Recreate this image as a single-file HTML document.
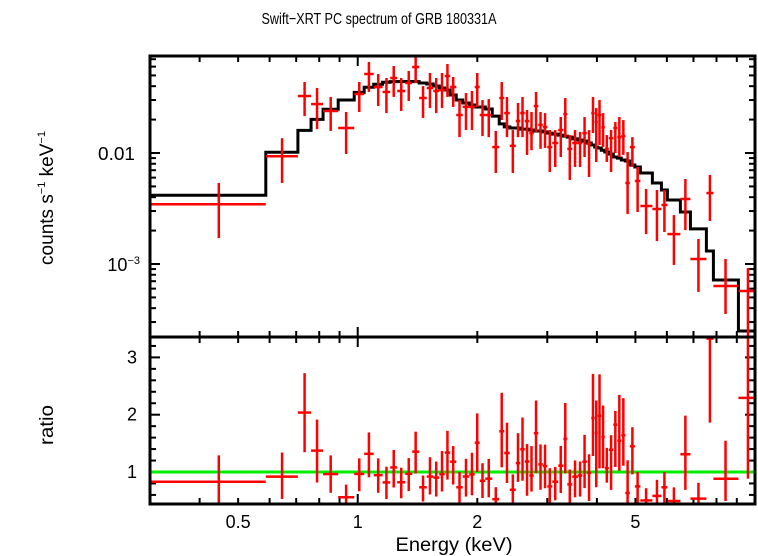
<!DOCTYPE html>
<html><head><meta charset="utf-8"><style>
html,body{margin:0;padding:0;background:#fff;}
svg{display:block;font-family:"Liberation Sans",sans-serif;}
</style></head><body>
<svg id="chart" width="758" height="556" viewBox="0 0 758 556">
<defs>
<clipPath id="clipTop"><rect x="150" y="56" width="605" height="281"/></clipPath>
<clipPath id="clipBot"><rect x="150" y="337" width="605" height="167"/></clipPath>
</defs>
<rect x="0" y="0" width="758" height="556" fill="#fff"/>
<text x="379" y="24" text-anchor="middle" font-size="16" textLength="235" lengthAdjust="spacingAndGlyphs">Swift−XRT PC spectrum of GRB 180331A</text>
<text transform="translate(53,198) rotate(-90)" text-anchor="middle" font-size="19">counts s<tspan font-size="11" dy="-8">−1</tspan><tspan dy="8"> keV</tspan><tspan font-size="11" dy="-8">−1</tspan></text>
<text transform="translate(53,425) rotate(-90)" text-anchor="middle" font-size="19" textLength="40" lengthAdjust="spacingAndGlyphs">ratio</text>
<text x="454" y="551" text-anchor="middle" font-size="19" textLength="117" lengthAdjust="spacingAndGlyphs">Energy (keV)</text>
<g id="ticks"></g>
<g id="topMarks" clip-path="url(#clipTop)"></g>
<g id="botMarks" clip-path="url(#clipBot)"></g>
<g id="labels"></g>
<rect x="150" y="56" width="605" height="281" fill="none" stroke="#000" stroke-width="3"/>
<rect x="150" y="337" width="605" height="167" fill="none" stroke="#000" stroke-width="3"/>
</svg>
<script>
const edges = [0.300,0.587,0.707,0.763,0.818,0.893,0.980,1.038,1.097,1.155,1.207,1.257,1.317,1.371,1.428,1.492,1.549,1.604,1.656,1.709,1.770,1.838,1.909,1.970,2.028,2.094,2.181,2.271,2.338,2.414,2.500,2.565,2.633,2.703,2.774,2.848,2.923,3.000,3.088,3.197,3.292,3.369,3.468,3.581,3.676,3.773,3.871,3.950,4.020,4.103,4.187,4.286,4.399,4.503,4.608,4.716,4.842,4.984,5.146,5.517,5.813,6.018,6.489,6.878,7.545,7.858,9.084,10.0];
const energies = [0.447,0.645,0.735,0.790,0.855,0.935,1.009,1.067,1.126,1.181,1.232,1.287,1.344,1.399,1.460,1.520,1.576,1.630,1.682,1.739,1.804,1.873,1.939,1.999,2.061,2.137,2.226,2.304,2.375,2.457,2.532,2.599,2.668,2.738,2.811,2.885,2.961,3.044,3.142,3.244,3.330,3.418,3.524,3.628,3.724,3.822,3.910,3.985,4.061,4.145,4.236,4.342,4.451,4.555,4.662,4.779,4.913,5.064,5.320,5.665,5.915,6.250,6.680,7.205,7.700,8.430,9.600];
const counts = [.00345,.00934,.0326,.0276,.0239,.0168,.0340,.0515,.0393,.0355,.0474,.0362,.0427,.0595,.0313,.0385,.0362,.0370,.0494,.0393,.0220,.0260,.0260,.0393,.0220,.0220,.0113,.0313,.0229,.0116,.0194,.0229,.0194,.0151,.0265,.0179,.0171,.0113,.0123,.0161,.0224,.0109,.0123,.0123,.0151,.0121,.0229,.0190,.0220,.0171,.0109,.0136,.0168,.0139,.0142,.00537,.0113,.00560,.00333,.00313,.00340,.00186,.00385,.00111,.00436,.000634,.000571];
const countsLo = [.00171,.00537,.0215,.0164,.0158,.0098,.0234,.0355,.0265,.0229,.0320,.0239,.0294,.0427,.0207,.0254,.0229,.0254,.0320,.0260,.0139,.0161,.0161,.0260,.0142,.0139,.00661,.0198,.0139,.00661,.0139,.0139,.0096,.0106,.0155,.0109,.0111,.00674,.00748,.0092,.0139,.00571,.00748,.00748,.0092,.00608,.0151,.0083,.0118,.0113,.0083,.00674,.0100,.0092,.0096,.00282,.00748,.00294,.00186,.00161,.00194,.00098,.00202,.00056,.00244,.000355,.00022];
const countsHi = [.00537,.0136,.0436,.0385,.0320,.0234,.0436,.0661,.0515,.0474,.0608,.0474,.0548,.0748,.0401,.0526,.0474,.0526,.0634,.0484,.0300,.0347,.0362,.0526,.0300,.0306,.0158,.0436,.0320,.0161,.0282,.0320,.0244,.0234,.0355,.0234,.0229,.0161,.0161,.0211,.0313,.0145,.0161,.0155,.0211,.0161,.0320,.0254,.0300,.0229,.0145,.0161,.0190,.0211,.0198,.0102,.0139,.00748,.00474,.00464,.00464,.00276,.00583,.00168,.00634,.00111,.00092];
const model = [.00416,.01015,.0160,.0201,.0248,.0300,.0352,.0391,.0416,.0434,.0439,.0441,.0441,.0439,.0427,.0418,.0401,.0385,.0369,.0333,.0300,.0282,.0271,.0260,.0260,.0249,.0215,.0183,.0172,.0168,.0168,.0164,.0164,.0161,.0158,.0158,.0155,.0151,.0148,.0145,.0142,.0139,.0134,.0131,.0128,.0123,.0118,.0113,.0111,.0106,.0102,.0098,.0092,.0090,.00865,.00847,.00780,.00748,.00661,.00537,.00464,.00377,.00294,.00207,.00131,.000718,.000249];
const xTickMajor = [1, 10];
const xTickMinor = [0.3,0.4,0.5,0.6,0.7,0.8,0.9,2,3,4,5,6,7,8,9];
const xTickLabels = ["0.5","1","2","5"];
const xTickLabelVals = [0.5,1,2,5];
const ratioTickLabels = ["1","2","3"];
const ratioTickVals = [1,2,3];

const NS = "http://www.w3.org/2000/svg";
const X0=150, X1=755, EMIN=0.3, EMAX=10;
function xs(e){ return X0 + (Math.log10(e)-Math.log10(EMIN))/(Math.log10(EMAX)-Math.log10(EMIN))*(X1-X0); }
function ysTop(c){ return 153 - (Math.log10(c)+2)*111; }
function ysBot(r){ return 472 - (r-1)*57.3; }
function mk(tag, attrs, parent){ const el=document.createElementNS(NS,tag); for(const k in attrs) el.setAttribute(k,attrs[k]); parent.appendChild(el); return el; }

const ticks=document.getElementById('ticks'), topG=document.getElementById('topMarks'), botG=document.getElementById('botMarks'), labG=document.getElementById('labels');

function xTick(e,len){
  const x=xs(e);
  [[56,1],[337,-1],[337,1],[504,-1]].forEach(([y,d])=>{
    const t=mk('line',{x1:x,x2:x,y1:y,y2:y+d*len,stroke:'#000','stroke-width':2},ticks);
    
    
  });
}
xTickMajor.forEach(e=>xTick(e,10));
xTickMinor.forEach(e=>xTick(e,6));
xTickLabels.forEach((s,i)=>{
  const t=mk('text',{x:xs(xTickLabelVals[i]),y:528,'text-anchor':'middle','font-size':18},labG);
  t.textContent=s;
  
  
});
for(let dec=-4; dec<=-1; dec++){
  for(let m=1;m<=9;m++){
    const c=m*Math.pow(10,dec); const y=ysTop(c);
    if(y<56||y>337) continue;
    const len=(m===1)?10:6;
    [[X0,1],[X1,-1]].forEach(([x,d])=>{
      const t=mk('line',{x1:x,x2:x+d*len,y1:y,y2:y,stroke:'#000','stroke-width':2},ticks);
      
      
    });
  }
}
{
  const t=mk('text',{x:135,y:160,'text-anchor':'end','font-size':18,textLength:37,lengthAdjust:'spacingAndGlyphs'},labG);
  t.textContent='0.01';
  
  
  const t2=mk('text',{x:140,y:271,'text-anchor':'end','font-size':18},labG);
  t2.innerHTML='10<tspan font-size="11" dy="-7">−3</tspan>';
  
  
}
for(let r=0.4;r<=3.41;r+=0.2){
  const y=ysBot(r); if(y<337||y>504) continue;
  const len=(Math.abs(r-Math.round(r))<0.01)?10:6;
  [[X0,1],[X1,-1]].forEach(([x,d])=>{
    const t=mk('line',{x1:x,x2:x+d*len,y1:y,y2:y,stroke:'#000','stroke-width':2},ticks);
    
    
  });
}
ratioTickLabels.forEach((s,i)=>{
  const t=mk('text',{x:137,y:ysBot(ratioTickVals[i])+6,'text-anchor':'end','font-size':18},labG);
  t.textContent=s;
  
  
});

let d='';
model.forEach((m,i)=>{
  const xa=xs(edges[i]), xb=xs(edges[i+1]), y=ysTop(m);
  d += (i===0?'M':'L')+xa+','+y+' L'+xb+','+y+' ';
});
const mp=mk('path',{d:d,fill:'none',stroke:'#000','stroke-width':3},topG);



const ul=mk('line',{x1:X0,x2:X1,y1:ysBot(1),y2:ysBot(1),stroke:'#00ee00','stroke-width':3},botG);



counts.forEach((c,i)=>{
  const xa=xs(edges[i]), xb=xs(edges[i+1]), xc=xs(energies[i]);
  const g=mk('g',{stroke:'#f00','stroke-width':2.5},topG);
  
  
  mk('line',{x1:xa,x2:xb,y1:ysTop(c),y2:ysTop(c)},g);
  mk('line',{x1:xc,x2:xc,y1:ysTop(countsLo[i]),y2:ysTop(countsHi[i])},g);
  const r=c/model[i], rl=countsLo[i]/model[i], rh=countsHi[i]/model[i];
  const g2=mk('g',{stroke:'#f00','stroke-width':2.5},botG);
  
  
  mk('line',{x1:xa,x2:xb,y1:ysBot(r),y2:ysBot(r)},g2);
  mk('line',{x1:xc,x2:xc,y1:ysBot(rl),y2:ysBot(rh)},g2);
});
</script>
</body></html>
